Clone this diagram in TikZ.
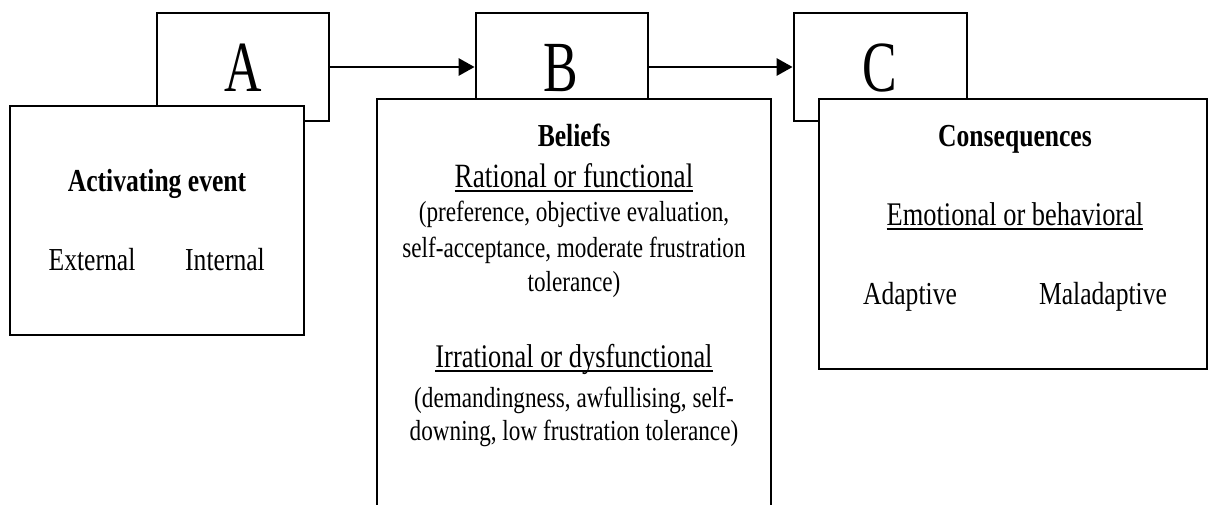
\documentclass[tikz,border=0pt]{standalone}
\usepackage{fontspec}
\usetikzlibrary{arrows.meta}
\newfontfamily\tf[FakeStretch=0.8]{Liberation Serif}
\newfontfamily\bigf[FakeStretch=0.72]{Liberation Serif}
\newcommand\myul[1]{\setbox0\hbox{#1}\rlap{\rule[-5pt]{\wd0}{2pt}}\box0}
\tikzset{
  box/.style={draw=black, line width=2.8pt, fill=white, inner sep=0pt},
  letter/.style={anchor=base, inner sep=0pt, font=\bigf\fontsize{72}{72}\selectfont},
  txt/.style={anchor=base, inner sep=0pt, font=\tf\fontsize{29}{34}\selectfont},
  head/.style={anchor=base, inner sep=0pt, font=\tf\fontsize{33}{34}\selectfont},
  bold/.style={anchor=base, inner sep=0pt, font=\tf\bfseries\fontsize{32}{34}\selectfont},
  conn/.style={line width=2.8pt, -{Triangle[length=16pt,width=17pt]}},
}
\begin{document}
\begin{tikzpicture}[x=1pt,y=-1pt]
\useasboundingbox (0,0) rectangle (1209,505);
\clip (0,0) rectangle (1209,505);
% small title boxes
\node[box, minimum width=172pt, minimum height=108pt] (sA) at (243,67) {};
\node[box, minimum width=172pt, minimum height=108pt] (sB) at (562,67) {};
\node[box, minimum width=173pt, minimum height=108pt] (sC) at (880.5,67) {};
% big content boxes
\node[box, minimum width=294pt, minimum height=229pt] (bA) at (157,220.5) {};
\node[box, minimum width=394pt, minimum height=430pt] (bB) at (574,314) {};
\node[box, minimum width=388pt, minimum height=270pt] (bC) at (1013,234) {};
% connectors
\draw[conn] (sA.east) -- (sB.west);
\draw[conn] (sB.east) -- (sC.west);
% letters
\node[letter] (lA) at (243,92) {A};
\node[letter] (lB) at (561,92) {B};
\node[letter] (lC) at (880,92) {C};
% A texts
\node[bold] (tA1) at (157,192) {Activating event};
\node[head, font=\tf\fontsize{32}{34}\selectfont] (tA2) at (92,270) {External};
\node[head, font=\tf\fontsize{32}{34}\selectfont] (tA3) at (225,270) {Internal};
% B texts
\node[bold] (tB1) at (574,147) {Beliefs};
\node[head, font=\tf\fontsize{34}{34}\selectfont] (tB2) at (574,187) {\myul{Rational or functional}};
\node[txt] (tB3) at (574,222) {(preference, objective evaluation,};
\node[txt] (tB4) at (574,257) {self-acceptance, moderate frustration};
\node[txt] (tB5) at (574,291) {tolerance)};
\node[head] (tB6) at (574,367) {\myul{Irrational or dysfunctional}};
\node[txt] (tB7) at (574,407) {(demandingness, awfullising, self-};
\node[txt] (tB8) at (574,440) {downing, low frustration tolerance)};
% C texts
\node[bold] (tC1) at (1015,147) {Consequences};
\node[head] (tC2) at (1015,225) {\myul{Emotional or behavioral}};
\node[head, font=\tf\fontsize{32}{34}\selectfont] (tC3) at (910,304) {Adaptive};
\node[head, font=\tf\fontsize{32}{34}\selectfont] (tC4) at (1103,304) {Maladaptive};
\end{tikzpicture}
\end{document}
